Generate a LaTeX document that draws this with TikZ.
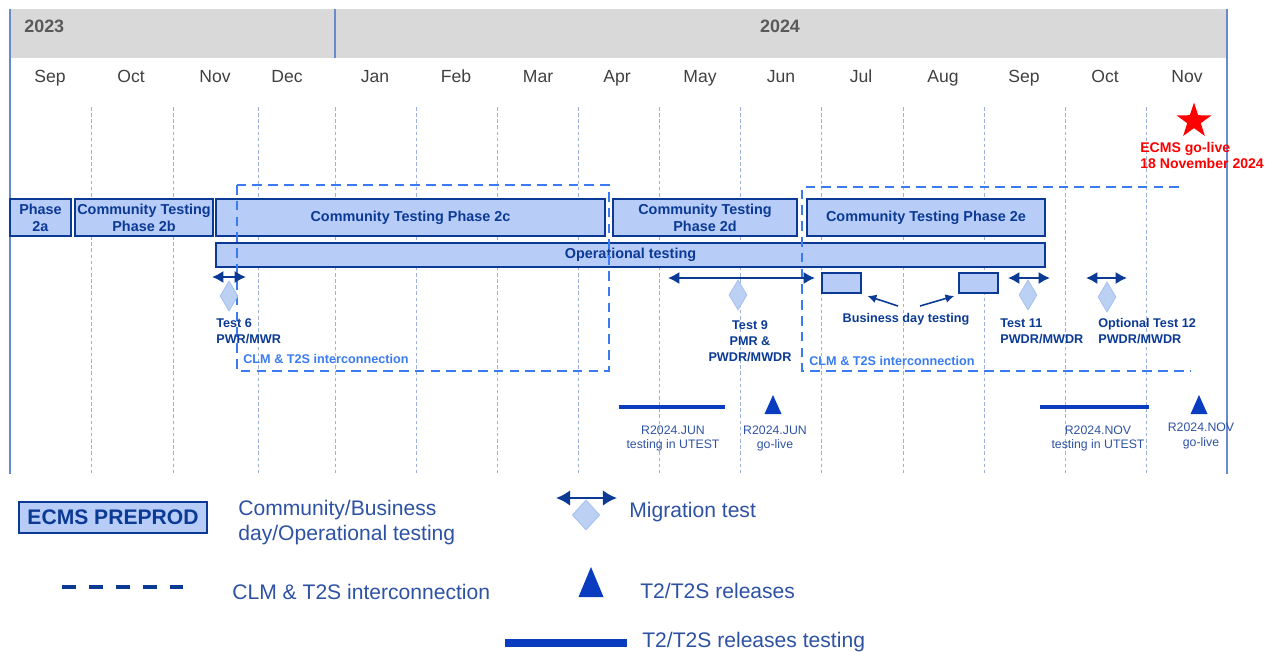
\documentclass[tikz,border=0pt]{standalone}
\usepackage{fontspec}
\setmainfont{Liberation Sans}
\usetikzlibrary{positioning,shapes.geometric,arrows.meta}

\definecolor{boxfill}{HTML}{B8CCF8}
\definecolor{boxline}{HTML}{0B3A94}
\definecolor{linkblue}{HTML}{3A7BF2}
\definecolor{gridblue}{HTML}{9DB1DA}
\definecolor{frameblue}{HTML}{6A8AD0}
\definecolor{headgray}{HTML}{D9D9D9}
\definecolor{yeargray}{HTML}{595959}
\definecolor{monthgray}{HTML}{404040}
\definecolor{relblue}{HTML}{0A3CC0}
\definecolor{txtblue}{HTML}{2E52A3}
\definecolor{diafill}{HTML}{BCD0F4}
\definecolor{diaedge}{HTML}{A6C2EE}

\begin{document}
\begin{tikzpicture}[x=0.02cm,y=-0.02cm,
    phasebox/.style={draw=boxline,fill=boxfill,line width=1.4pt,inner sep=0pt,
      text=boxline,font=\fontsize{8.2}{9.6}\selectfont\bfseries,align=center},
    month/.style={text=monthgray,font=\fontsize{10}{12}\selectfont,anchor=base,inner sep=0pt},
    year/.style={text=yeargray,font=\fontsize{10.2}{12}\selectfont\bfseries},
    gridline/.style={gridblue,line width=0.4pt,dash pattern=on 2pt off 1.5pt},
    linkline/.style={linkblue,line width=1.1pt,dash pattern=on 5.5pt off 3.5pt},
    linklbl/.style={text=linkblue,font=\fontsize{7.2}{9}\selectfont\bfseries,inner sep=0pt,anchor=west},
    testlbl/.style={text=boxline,font=\fontsize{7.2}{9}\selectfont\bfseries,inner sep=0pt},
    rellbl/.style={text=txtblue,font=\fontsize{7}{8.5}\selectfont,align=center,inner sep=0pt},
    migarrow/.style={boxline,line width=1.1pt,{Latex[length=6.5pt,width=7pt]}-{Latex[length=6.5pt,width=7pt]}},
    bdarrow/.style={boxline,line width=0.9pt,-{Latex[length=5pt,width=5pt]}},
    migdia/.style={diamond,draw=diaedge,fill=diafill,line width=0.5pt,inner sep=0pt,
      minimum width=0.36cm,minimum height=0.6cm},
    relbar/.style={relblue,line width=2.8pt},
    legtxt/.style={text=txtblue,font=\fontsize{12}{14.2}\selectfont,inner sep=0pt,anchor=west,align=left}]
  \useasboundingbox (0,0) rectangle (1278,652);

  % header
  \fill[headgray] (10,9) rectangle (1227,58);
  \draw[frameblue,line width=0.6pt] (335,9) -- (335,58);
  \draw[frameblue,line width=0.6pt] (10,9) -- (10,474);
  \draw[frameblue,line width=0.6pt] (1227,9) -- (1227,474);
  \node[year,anchor=west,inner sep=0pt] (y2023) at (24,26) {2023};
  \node[year] (y2024) at (780,26) {2024};
  \foreach \m/\x [count=\i] in {Sep/50,Oct/131,Nov/215,Dec/287,Jan/375,Feb/456,Mar/538,Apr/617,
      May/700,Jun/781,Jul/861,Aug/943,Sep/1024,Oct/1105,Nov/1187}
    \node[month] (mon\i) at (\x,83) {\m};
  \foreach \x in {91,173,258,335,416,497,578,659,740,821,903,984,1065,1146}
    \draw[gridline] (\x,107) -- (\x,474);

  % go-live
  \node[star,star points=5,star point ratio=2.6,fill=red,inner sep=0pt,minimum size=0.74cm] (golive) at (1194,121) {};
  \node[text=red,font=\fontsize{8}{9.6}\selectfont\bfseries,align=left,anchor=west,inner sep=0pt] (golivelbl) at (1140,155.5) {ECMS go-live\\18 November 2024};

  % testing phases
  \node[phasebox,minimum width=61*0.02cm,minimum height=37*0.02cm] (p2a) at (40.5,217.5) {Phase\\2a};
  \node[phasebox,minimum width=138*0.02cm,minimum height=37*0.02cm] (p2b) at (144,217.5) {Community Testing\\Phase 2b};
  \node[phasebox,minimum width=389*0.02cm,minimum height=37*0.02cm] (p2c) at (410.5,217.5) {Community Testing Phase 2c};
  \node[phasebox,minimum width=184*0.02cm,minimum height=37*0.02cm] (p2d) at (705,217.5) {Community Testing\\Phase 2d};
  \node[phasebox,minimum width=238*0.02cm,minimum height=37*0.02cm] (p2e) at (926,217.5) {Community Testing Phase 2e};
  \node[phasebox,minimum width=829*0.02cm,minimum height=24*0.02cm] (optest) at (630.5,255) {Operational testing};
  \node[phasebox,minimum width=39*0.02cm,minimum height=20*0.02cm] (bd1) at (841.5,283) {};
  \node[phasebox,minimum width=39*0.02cm,minimum height=20*0.02cm] (bd2) at (978.5,283) {};

  % interconnection
  \draw[linkline] (237,185) rectangle (609,371);
  \draw[linkline] (1179,187) -- (802,187) -- (802,371) -- (1190,371);
  \node[linklbl] (clm1) at (243,359) {CLM \& T2S interconnection};
  \node[linklbl] (clm2) at (809,361) {CLM \& T2S interconnection};

  % migration tests
  \coordinate (m6l) at (212,277);  \coordinate (m6r) at (246,277);
  \coordinate (m9l) at (668,278);  \coordinate (m9r) at (815,278);
  \coordinate (m11l) at (1008,278); \coordinate (m11r) at (1050,278);
  \coordinate (m12l) at (1086,278); \coordinate (m12r) at (1127,278);
  \draw[migarrow] (m6l) -- (m6r);
  \draw[migarrow] (m9l) -- (m9r);
  \draw[migarrow] (m11l) -- (m11r);
  \draw[migarrow] (m12l) -- (m12r);
  \node[migdia] (d6) at (229,296) {};
  \node[migdia] (d9) at (738,295) {};
  \node[migdia] (d11) at (1028,295) {};
  \node[migdia] (d12) at (1107,297) {};
  \node[testlbl,align=left,anchor=west] (t6) at (216,331) {Test 6\\PWR/MWR};
  \node[testlbl,align=center] (t9) at (750,341) {Test 9\\PMR \&\\PWDR/MWDR};
  \node[testlbl,align=left,anchor=west] (t11) at (1000,331) {Test 11\\PWDR/MWDR};
  \node[testlbl,align=left,anchor=west] (t12) at (1098,331) {Optional Test 12\\PWDR/MWDR};

  % business day testing
  \node[testlbl] (bdlbl) at (906,319) {Business day testing};
  \coordinate (bda) at (898,306);
  \coordinate (bdb) at (920,306);
  \draw[bdarrow] (bda) -- ([xshift=3pt,yshift=-1pt]bd1.south east);
  \draw[bdarrow] (bdb) -- ([xshift=-2pt,yshift=-1pt]bd2.south west);

  % releases
  \draw[relbar] (619,407) -- (725,407);
  \draw[relbar] (1040,407) -- (1149,407);
  \fill[relblue] (773,395) -- (781.5,414) -- (764.5,414) -- cycle;
  \fill[relblue] (1199,395) -- (1207.5,414) -- (1190.5,414) -- cycle;
  \node[rellbl] (r1) at (673,438.5) {R2024.JUN\\testing in UTEST};
  \node[rellbl] (r2) at (775,438.5) {R2024.JUN\\go-live};
  \node[rellbl] (r3) at (1098,438.5) {R2024.NOV\\testing in UTEST};
  \node[rellbl] (r4) at (1201,436) {R2024.NOV\\go-live};

  % legend
  \node[phasebox,line width=0.8pt,font=\fontsize{12}{14}\selectfont\bfseries,
    minimum width=188*0.02cm,minimum height=31*0.02cm] (lgbox) at (113,517.5) {ECMS PREPROD};
  \node[legtxt] (lg1) at (238,522.5) {Community/Business\\day/Operational testing};
  \draw[boxline,line width=1.8pt,dash pattern=on 7.9pt off 7.4pt] (62,587) -- (188,587);
  \node[legtxt] (lg2) at (232,592) {CLM \& T2S interconnection};
  \coordinate (lgml) at (556,498); \coordinate (lgmr) at (617,498);
  \node[migdia,minimum width=0.55cm,minimum height=0.6cm] (lgdia) at (586,515) {};
  \draw[boxline,line width=1.6pt,{Latex[length=8pt,width=9pt]}-{Latex[length=8pt,width=9pt]}] (lgml) -- (lgmr);
  \node[legtxt] (lg3) at (629,512) {Migration test};
  \fill[relblue] (591,567) -- (603.5,597) -- (578.5,597) -- cycle;
  \node[legtxt] (lg4) at (640,591) {T2/T2S releases};
  \draw[relblue,line width=5pt] (505,643) -- (627,643);
  \node[legtxt] (lg5) at (642,642) {T2/T2S releases testing};
\end{tikzpicture}
\end{document}
